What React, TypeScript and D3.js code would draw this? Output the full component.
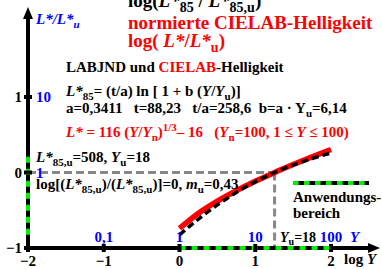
import React from "react";
import * as d3 from "d3";

// log Y sample positions and curve values
const logY = [0, 0.25, 0.5, 0.75, 1, 1.25, 1.5, 1.75, 2];
const cielabLog = [-0.741, -0.54, -0.379, -0.241, -0.117, -0.002, 0.105, 0.207, 0.305];
const labjndLog = [-0.826, -0.617, -0.429, -0.264, -0.122, -0.002, 0.099, 0.185, 0.258];

const xTicks = [-2, -1, 0, 1, 2];
const yTicks = [-1, 0, 1];
const yLabels = ["0,1", "1", "10", "100"];
const logYu = 1.255;
const rangeY = [-0.826, 0.258];
const rangeX = [0, 2];

const W = 382;
const H = 269;

// subscript / superscript pieces
const Sub = ({ t, size = 11, s = 4 }: { t: string; size?: number; s?: number }) => (
  <tspan fontSize={size} baselineShift={-s}>
    {t}
  </tspan>
);
const Sup = ({ t, size = 11, s = 6 }: { t: string; size?: number; s?: number }) => (
  <tspan fontSize={size} baselineShift={s}>
    {t}
  </tspan>
);
const I = ({ t }: { t: string }) => <tspan fontStyle="italic">{t}</tspan>;

const App = () => {
  const x = d3.scaleLinear().domain([-2, 2]).range([28, 331]);
  const y = d3.scaleLinear().domain([-1, 1]).range([248, 97]);

  const line = d3
    .line<number>()
    .x((_, i) => x(logY[i]))
    .y((d) => y(d))
    .curve(d3.curveMonotoneX);

  const font = "'Liberation Serif', 'Times New Roman', serif";
  const x0 = x(-2);
  const y0 = y(-1);
  const sp = "\u00a0";

  return (
    <svg
      width={W}
      height={H}
      style={{ position: "absolute", left: 0, top: 0, background: "#fff" }}
      fontFamily={font}
      fontWeight="bold"
    >
      {/* gray dashed guides at Yu */}
      <line
        x1={x0}
        x2={x(logYu)}
        y1={y(0)}
        y2={y(0)}
        stroke="#888"
        strokeWidth={3}
        strokeDasharray="8 4"
      />
      <line
        x1={x(logYu)}
        x2={x(logYu)}
        y1={y(0)}
        y2={y0}
        stroke="#888"
        strokeWidth={3}
        strokeDasharray="8 4"
      />

      {/* axes */}
      <line x1={x0} x2={372} y1={y0} y2={y0} stroke="#000" strokeWidth={4} />
      <path d={`M380,${y0} L368,${y0 - 5} L368,${y0 + 5} Z`} fill="#000" />
      <line x1={x0} x2={x0} y1={y0} y2={16} stroke="#000" strokeWidth={4} />
      <path d={`M${x0},7 L${x0 - 5},19 L${x0 + 5},19 Z`} fill="#000" />

      {/* application range on axes */}
      <line
        x1={x(rangeX[0])}
        x2={x(rangeX[1])}
        y1={y0}
        y2={y0}
        stroke="#00ee00"
        strokeWidth={4}
        strokeDasharray="6 6"
      />
      <line
        x1={x0}
        x2={x0}
        y1={y(rangeY[0])}
        y2={y(rangeY[1])}
        stroke="#00ee00"
        strokeWidth={4}
        strokeDasharray="6 6"
      />

      {/* ticks */}
      {xTicks.map((t) => (
        <rect key={"xt" + t} x={x(t) - 2} y={y0 - 4} width={4} height={8} fill="#000" />
      ))}
      {yTicks.map((t) => (
        <rect key={"yt" + t} x={x0 - 4} y={y(t) - 2} width={8} height={4} fill="#000" />
      ))}

      {/* curves */}
      <path d={line(cielabLog) || ""} fill="none" stroke="#ff0000" strokeWidth={5.5} />
      <path
        d={line(labjndLog) || ""}
        fill="none"
        stroke="#000"
        strokeWidth={3.5}
        strokeDasharray="7 4"
      />

      {/* tick labels */}
      {xTicks.map((t) => (
        <text key={"xl" + t} x={x(t)} y={266} fontSize={15} textAnchor="middle">
          {t < 0 ? "\u2212" + Math.abs(t) : t}
        </text>
      ))}
      {yTicks.map((t) => (
        <text key={"yl" + t} x={x0 - 6} y={y(t) + 5} fontSize={15} textAnchor="end">
          {t < 0 ? "\u2212" + Math.abs(t) : t}
        </text>
      ))}
      {yLabels.map((l, i) => (
        <text
          key={"bl" + l}
          x={x(i - 1)}
          y={242}
          fontSize={15}
          textAnchor="middle"
          fill="#0000ff"
        >
          {l}
        </text>
      ))}
      <text x={36} y={y(1) + 5} fontSize={15} fill="#0000ff">
        10
      </text>
      <text x={36} y={y(0) + 5} fontSize={15} fill="#0000ff">
        1
      </text>
      <text x={350} y={242} fontSize={15} fill="#0000ff" fontStyle="italic">
        Y
      </text>
      <text x={280} y={242} fontSize={14}>
        <I t="Y" />
        <Sub t="u" size={10} s={3} />
        =18
      </text>
      <text x={344} y={264} fontSize={15}>
        log <I t="Y" />
      </text>
      <text x={36} y={24} fontSize={15} fill="#0000ff" fontStyle="italic">
        L*/L*
        <Sub t="u" />
      </text>

      {/* titles */}
      <text x={128} y={7} fontSize={19}>
        log(
        <I t="L*" />
        <Sub t="85" size={14} s={5} /> / <I t="L*" />
        <Sub t="85,u" size={14} s={5} />)
      </text>
      <text x={128} y={29} fontSize={19} fill="#ff0000">
        normierte CIELAB-Helligkeit
      </text>
      <text x={128} y={47} fontSize={19} fill="#ff0000">
        log( <I t="L*" />/<I t="L*" />
        <Sub t="u" size={14} s={5} />)
      </text>

      <text x={66} y={72} fontSize={15}>
        LABJND und <tspan fill="#ff0000">CIELAB</tspan>-Helligkeit
      </text>
      <text x={66} y={96} fontSize={15}>
        <I t="L*" />
        <Sub t="85" />= (t/a) ln [ 1 + b (<I t="Y" />/<I t="Y" />
        <Sub t="u" />)]
      </text>
      <text x={66} y={113} fontSize={15}>
        {`a=0,3411${sp}${sp}${sp}t=88,23${sp}${sp}${sp}t/a=258,6${sp}${sp}b=a · Y`}
        <Sub t="u" />
        =6,14
      </text>
      <text x={66} y={137} fontSize={15} fill="#ff0000">
        <I t="L*" /> = 116 (<I t="Y" />/<I t="Y" />
        <Sub t="n" />)<Sup t="1/3" />
        {`– 16${sp}${sp}${sp}(`}
        <I t="Y" />
        <Sub t="n" />
        =100, 1 ≤ <I t="Y" /> ≤ 100)
      </text>
      <text x={36} y={162} fontSize={15}>
        <I t="L*" />
        <Sub t="85,u" />
        =508, <I t="Y" />
        <Sub t="u" />
        =18
      </text>
      <text x={36} y={189} fontSize={15}>
        log[(<I t="L*" />
        <Sub t="85,u" />
        )/(<I t="L*" />
        <Sub t="85,u" />
        )]=0, <I t="m" />
        <Sub t="u" />
        =0,43
      </text>

      {/* legend */}
      <line x1={293} x2={369} y1={183} y2={183} stroke="#000" strokeWidth={4} />
      <line
        x1={293}
        x2={369}
        y1={183}
        y2={183}
        stroke="#00ee00"
        strokeWidth={4}
        strokeDasharray="5.5 5.5"
      />
      <text x={293} y={202} fontSize={15}>
        Anwendungs-
      </text>
      <text x={293} y={218} fontSize={15}>
        bereich
      </text>
    </svg>
  );
};

export default App;
